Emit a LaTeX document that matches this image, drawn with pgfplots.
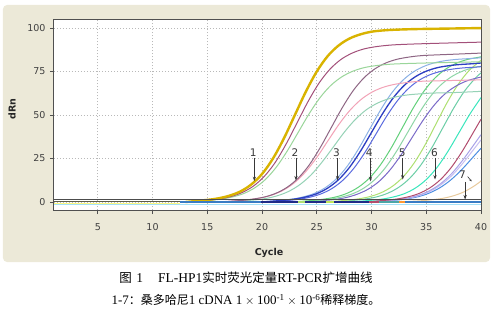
\documentclass[border=0pt]{standalone}
\usepackage{fontspec}
\setmainfont{DejaVu Sans}
\newfontfamily\cjk{Noto Sans CJK SC}
\newfontfamily\tnr{Liberation Serif}
\usepackage{pgfplots}
\pgfplotsset{compat=1.18}
\usetikzlibrary{arrows.meta}
\definecolor{panel}{HTML}{ECE9D8}
\definecolor{frameC}{HTML}{505050}
\definecolor{yellowC}{HTML}{D9B300}
\definecolor{plumC}{HTML}{A3507A}
\definecolor{greenA}{HTML}{9AD69A}
\definecolor{mauveC}{HTML}{8E6684}
\definecolor{pinkC}{HTML}{F2A2B6}
\definecolor{tealA}{HTML}{96D2B6}
\definecolor{navyC}{HTML}{2C3EC2}
\definecolor{blueM}{HTML}{5A6ADF}
\definecolor{blueL}{HTML}{8CB2E6}
\definecolor{greenB}{HTML}{62D07A}
\definecolor{seaG}{HTML}{8ED6A6}
\definecolor{purpC}{HTML}{7A6AC8}
\definecolor{ygreen}{HTML}{AEE070}
\definecolor{tealB}{HTML}{6CCEA6}
\definecolor{aquaC}{HTML}{38E6BC}
\definecolor{roseC}{HTML}{B24C6E}
\definecolor{lavC}{HTML}{C6BEF2}
\definecolor{violetC}{HTML}{A8A2E8}
\definecolor{blueS}{HTML}{4C8EE2}
\definecolor{tanC}{HTML}{E8CA9C}
\definecolor{baseBlue}{HTML}{3A7CC4}
\definecolor{baseDark}{HTML}{5C5C46}
\definecolor{arrowC}{HTML}{383838}
\begin{document}
\begin{tikzpicture}[x=1pt,y=1pt]
\useasboundingbox (-54,-101) rectangle (440,210);
\fill[panel, rounded corners=4pt] (-51,-52) rectangle (436,205);
\begin{axis}[
  at={(0,0)}, anchor=south west, scale only axis,
  width=427pt, height=191pt,
  xmin=1, xmax=40, ymin=-4.6, ymax=105.2,
  axis background/.style={fill=white},
  xtick={5,10,...,40}, ytick={0,25,50,75,100},
  tick pos=left, tick align=outside, major tick length=4pt,
  tick style={frameC, line width=0.8pt},
  grid=major,
  major grid style={gray!55, line width=0.6pt, dash pattern=on 1.2pt off 1.8pt},
  axis line style={frameC, line width=1pt},
  ticklabel style={font=\fontsize{9.5}{11}\selectfont, text=black!75},
  /pgf/number format/assume math mode=true,
  xticklabel style={yshift=-6pt},
  yticklabel style={xshift=-1pt},
  no markers,
  every axis plot/.append style={smooth, tension=0.55, line width=1pt},
]
% group 7
\addplot[tanC] coordinates {(32.5,0) (34.5,0.7) (35.5,1.3) (36.5,2.1) (37.5,3.6) (38.5,6.0) (39.5,9.7) (40,12.1)};
% group 6
\addplot[blueS] coordinates {(29.3,0) (31.3,0.6) (32.3,1.1) (33.3,1.9) (34.3,3.1) (35.3,5.2) (36.3,8.4) (37.3,13.0) (38.3,19.0) (39.3,26.0) (40,30.9)};
\addplot[lavC] coordinates {(29.3,0) (31.3,0.7) (32.3,1.3) (33.3,2.1) (34.3,3.6) (35.3,6.0) (36.3,9.7) (37.3,15.0) (38.3,22.0) (39.3,30.0) (40,35.7)};
\addplot[violetC] coordinates {(29.3,0) (31.3,0.8) (32.3,1.4) (33.3,2.3) (34.3,3.9) (35.3,6.5) (36.3,10.5) (37.3,16.2) (38.3,23.8) (39.3,32.5) (40,38.7)};
\addplot[roseC] coordinates {(29.3,0) (31.3,1.0) (32.3,1.7) (33.3,2.9) (34.3,4.8) (35.3,8.0) (36.3,12.9) (37.3,20.0) (38.3,29.3) (39.3,40.0) (40,47.6)};
% group 5
\addplot[aquaC] coordinates {(28,0) (30,1.0) (31,1.7) (32,2.9) (33,4.8) (34,8.0) (35,12.9) (36,20.0) (37,29.3) (38,40.0) (39,50.7) (40,60.0)};
\addplot[tealB] coordinates {(26.5,0) (28.5,1.0) (29.5,1.8) (30.5,3.0) (31.5,5.1) (32.5,8.5) (33.5,13.7) (34.5,21.2) (35.5,31.1) (36.5,42.5) (37.5,53.9) (38.5,63.8) (39.5,71.3) (40,74.2)};
\addplot[ygreen] coordinates {(25.9,0) (27.9,1.1) (28.9,1.9) (29.9,3.2) (30.9,5.4) (31.9,9.0) (32.9,14.5) (33.9,22.5) (34.9,32.9) (35.9,45.0) (36.9,57.1) (37.9,67.5) (38.9,75.5) (39.9,81.0) (40,81.5)};
% group 4
\addplot[purpC] coordinates {(23.7,0) (25.7,0.9) (26.7,1.5) (27.7,2.6) (28.7,4.5) (29.7,7.4) (30.7,11.9) (31.7,18.5) (32.7,27.1) (33.7,37.0) (34.7,46.9) (35.7,55.5) (36.7,62.1) (37.7,66.6) (38.7,69.6) (39.7,71.4) (40,71.8)};
\addplot[seaG] coordinates {(23.3,0) (25.3,1.0) (26.3,1.7) (27.3,2.9) (28.3,4.8) (29.3,8.0) (30.3,12.9) (31.3,20.0) (32.3,29.3) (33.3,40.0) (34.3,50.7) (35.3,60.0) (36.3,67.1) (37.3,72.0) (38.3,75.2) (39.3,77.2) (40,78.0)};
\addplot[greenB] coordinates {(22.8,0) (24.8,1.0) (25.8,1.8) (26.8,3.0) (27.8,5.1) (28.8,8.5) (29.8,13.7) (30.8,21.2) (31.8,31.1) (32.8,42.5) (33.8,53.9) (34.8,63.8) (35.8,71.3) (36.8,76.5) (37.8,79.9) (38.8,82.0) (39.8,83.2) (40,83.5)};
% group 3
\addplot[blueL] coordinates {(19.8,0) (21.8,1.0) (22.8,1.7) (23.8,3.0) (24.8,5.0) (25.8,8.3) (26.8,13.4) (27.8,20.7) (28.8,30.4) (29.8,41.5) (30.8,52.6) (31.8,62.3) (32.8,69.6) (33.8,74.7) (34.8,78.0) (35.8,80.1) (36.8,81.3) (37.8,82.0) (38.8,82.4) (40,82.9)};
\addplot[blueM] coordinates {(20.4,0) (22.4,0.9) (23.4,1.6) (24.4,2.8) (25.4,4.7) (26.4,7.8) (27.4,12.6) (28.4,19.5) (29.4,28.5) (30.4,39.0) (31.4,49.5) (32.4,58.5) (33.4,65.4) (34.4,70.2) (35.4,73.3) (36.4,75.2) (37.4,76.4) (38.4,77.1) (39.4,77.5) (40,77.8)};
\addplot[navyC, line width=1.3pt] coordinates {(20,0) (22,1.0) (23,1.7) (24,2.9) (25,4.8) (26,8.0) (27,12.9) (28,20.0) (29,29.3) (30,40.0) (31,50.7) (32,60.0) (33,67.1) (34,72.0) (35,75.2) (36,77.2) (37,78.3) (38,79.0) (39,79.4) (40,79.9)};
% group 2
\addplot[tealA] coordinates {(16.5,0) (18.5,0.8) (19.5,1.3) (20.5,2.2) (21.5,3.8) (22.5,6.3) (23.5,10.2) (24.5,15.7) (25.5,23.1) (26.5,31.5) (27.5,40.0) (28.5,47.3) (29.5,52.9) (30.5,56.7) (31.5,59.2) (32.5,60.8) (33.5,61.7) (34.5,62.2) (35.5,62.6) (37.5,62.9) (40,63.6)};
\addplot[pinkC] coordinates {(16,0) (18,0.9) (19,1.5) (20,2.5) (21,4.2) (22,7.0) (23,11.3) (24,17.5) (25,25.6) (26,35.0) (27,44.4) (28,52.5) (29,58.7) (30,63.0) (31,65.8) (32,67.5) (33,68.5) (34,69.2) (35,69.5) (37,69.8) (40,70.2)};
\addplot[mauveC] coordinates {(16.3,0) (18.3,1.0) (19.3,1.8) (20.3,3.0) (21.3,5.1) (22.3,8.5) (23.3,13.7) (24.3,21.2) (25.3,31.1) (26.3,42.5) (27.3,53.9) (28.3,63.8) (29.3,71.3) (30.3,76.5) (31.3,79.9) (32.3,82.0) (33.3,83.2) (34.3,84.0) (35.3,84.4) (37.3,84.9) (40,85.6)};
% group 1
\addplot[greenA] coordinates {(13.3,0) (15.3,1.0) (16.3,1.7) (17.3,2.9) (18.3,4.8) (19.3,8.0) (20.3,12.9) (21.3,20.0) (22.3,29.3) (23.3,40.0) (24.3,50.7) (25.3,60.0) (26.3,67.1) (27.3,72.0) (28.3,75.2) (29.3,77.2) (30.3,78.3) (31.3,79.0) (32.3,79.4) (34.3,79.8) (37,80.2) (40,80.6)};
\addplot[plumC] coordinates {(13.2,0) (15.2,1.1) (16.2,1.9) (17.2,3.2) (18.2,5.5) (19.2,9.1) (20.2,14.7) (21.2,22.7) (22.2,33.3) (23.2,45.5) (24.2,57.7) (25.2,68.3) (26.2,76.3) (27.2,81.9) (28.2,85.5) (29.2,87.8) (30.2,89.1) (31.2,89.9) (32.2,90.4) (34.2,90.9) (37,91.4) (40,91.9)};
\addplot[yellowC, line width=2.4pt] coordinates {(13,0) (15,1.2) (16,2.1) (17,3.6) (18,6.0) (19,10.0) (20,16.1) (21,25.0) (22,36.6) (23,50) (24,63.4) (25,75.0) (26,83.9) (27,90.0) (28,94.0) (29,96.4) (30,97.9) (31,98.6) (32,99.0) (34,99.4) (37,99.7) (40,100)};
% baseline
\addplot[sharp plot, color=cyan!35, line width=0.8pt] coordinates {(1,-1.3) (40,-1.3)};
\addplot[sharp plot, color=yellow!50!white, line width=0.8pt] coordinates {(1,-1.0) (12.5,-1.0)};
\addplot[sharp plot, color=baseBlue, line width=1.8pt] coordinates {(12.5,0.2) (40,0.2)};
\addplot[sharp plot, color=baseDark, line width=1.9pt] coordinates {(1,0.3) (12.5,0.3)};
\addplot[sharp plot, color=navyC!70!black, line width=1.8pt] coordinates {(19.9,0.2) (23.3,0.2)};
\addplot[sharp plot, color=ygreen, line width=1.8pt] coordinates {(23.3,0.2) (23.9,0.2)};
\addplot[sharp plot, color=navyC!70!black, line width=1.8pt] coordinates {(23.9,0.2) (25.8,0.2)};
\addplot[sharp plot, color=ygreen!80!yellow, line width=1.8pt] coordinates {(25.8,0.2) (26.6,0.2)};
\addplot[sharp plot, color=navyC!70!black, line width=1.8pt] coordinates {(26.6,0.2) (29.8,0.2)};
\addplot[sharp plot, color=roseC, line width=1.8pt] coordinates {(29.8,0.2) (30.7,0.2)};
\addplot[sharp plot, color=teal!70, line width=1.8pt] coordinates {(30.7,0.2) (32.5,0.2)};
\addplot[sharp plot, color=orange!80, line width=1.8pt] coordinates {(32.5,0.2) (33.1,0.2)};
\addplot[sharp plot, color=black!70, line width=0.6pt] coordinates {(1,1.3) (40,1.3)};
% arrows and labels
\tikzset{arr/.style={arrowC, line width=0.7pt, -{Stealth[length=4.5pt,width=3.2pt]}},
         lab/.style={text=arrowC, font=\fontsize{10.5}{12}\selectfont, inner sep=0pt}}
\draw[arr] (axis cs:19.3,25.3) -- (axis cs:19.3,12.0);
\node[lab] at (axis cs:19.2,28.6) {1};
\draw[arr] (axis cs:23.1,25.3) -- (axis cs:23.1,12.4);
\node[lab] at (axis cs:23.0,28.6) {2};
\draw[arr] (axis cs:26.9,25.3) -- (axis cs:26.9,12.4);
\node[lab] at (axis cs:26.8,28.6) {3};
\draw[arr] (axis cs:29.9,25.3) -- (axis cs:29.9,11.9);
\node[lab] at (axis cs:29.8,28.6) {4};
\draw[arr] (axis cs:32.85,25.3) -- (axis cs:32.85,12.9);
\node[lab] at (axis cs:32.8,28.6) {5};
\draw[arr] (axis cs:35.8,25.3) -- (axis cs:35.8,12.9);
\node[lab] at (axis cs:35.75,28.6) {6};
\node[lab] at (axis cs:38.3,15.8) {7};
\draw[arrowC, line width=0.6pt, -{Stealth[length=2.5pt,width=2pt]}] (axis cs:38.78,14.6) -- (axis cs:39.15,11.8);
\draw[arr] (axis cs:38.55,11.5) -- (axis cs:38.55,1.4);
\end{axis}
\node[font=\bfseries\fontsize{9.5}{11}\selectfont, rotate=90, text=black!85] at (-42,101) {dRn};
\node[font=\bfseries\fontsize{9.5}{11}\selectfont, text=black!85] at (215,-43) {Cycle};
\node[inner sep=0pt] at (192,-68) {\fontsize{12.5}{14}\selectfont{\cjk 图}\hspace{0.35em}{\tnr\fontsize{13.5}{14}\selectfont 1}\hspace{1.2em}{\tnr\fontsize{13.5}{14}\selectfont FL-HP1}{\cjk 实时荧光定量}{\tnr\fontsize{13.5}{14}\selectfont RT-PCR}{\cjk 扩增曲线}};
\node[inner sep=0pt] at (192,-90) {\fontsize{12}{14}\selectfont{\tnr\fontsize{13}{14}\selectfont 1-7}{\cjk ：桑多哈尼}{\tnr\fontsize{13}{14}\selectfont 1 cDNA 1${}\times{}$100\textsuperscript{-1}${}\times{}$10\textsuperscript{-6}}{\cjk 稀释梯度。}};
\end{tikzpicture}
\end{document}
